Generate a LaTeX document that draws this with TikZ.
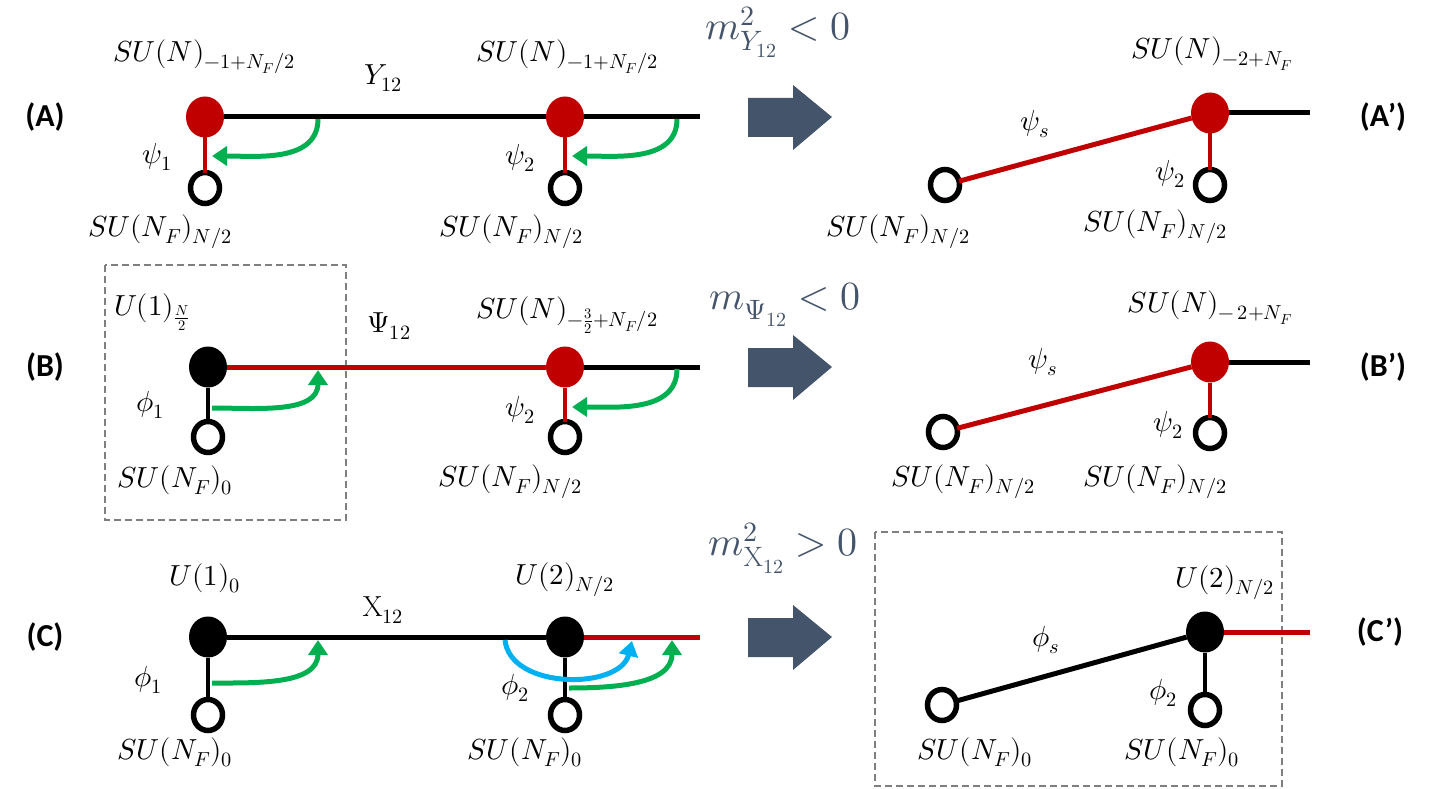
\documentclass[tikz,border=0pt]{standalone}
\usepackage{fontspec}
\usepackage{unicode-math}
\setmathfont{Latin Modern Math}
\setsansfont{Carlito}
\usetikzlibrary{arrows.meta,shapes.geometric}
\definecolor{dred}{HTML}{C00000}
\definecolor{ggreen}{HTML}{00B050}
\definecolor{gblue}{HTML}{00B0F0}
\definecolor{slate}{HTML}{44546A}
\definecolor{dgray}{HTML}{7F7F7F}
\begin{document}
\begin{tikzpicture}[x=1pt,y=-1pt,
  gauge/.style={ellipse,minimum width=38pt,minimum height=41pt,inner sep=0pt,outer sep=0pt},
  rg/.style={gauge,fill=dred},
  bg/.style={gauge,fill=black},
  flav/.style={ellipse,draw=black,line width=5.5pt,minimum width=29pt,minimum height=31pt,inner sep=0pt,outer sep=0pt,fill=white},
  bline/.style={draw=black,line width=5pt},
  rline/.style={draw=dred,line width=5pt},
  bstem/.style={draw=black,line width=4.5pt},
  rstem/.style={draw=dred,line width=4.5pt},
  garrow/.style={draw=ggreen,line width=5pt,-{Triangle[length=15pt,width=19pt]}},
  barrow/.style={draw=gblue,line width=5pt,-{Triangle[length=15pt,width=19pt]}},
  lbl/.style={inner sep=0pt,font=\fontsize{29}{34}\selectfont},
  mass/.style={inner sep=0pt,text=slate,font=\fontsize{40}{44}\selectfont},
  tag/.style={inner sep=0pt,font=\sffamily\bfseries\fontsize{32}{36}\selectfont},
  bigarrow/.style={fill=slate,draw=none},
  dbox/.style={draw=dgray,line width=1.8pt,dash pattern=on 7pt off 4pt}
]
\useasboundingbox (0,0) rectangle (1435,789);

% dashed boxes
\draw[dbox] (105,265) rectangle (346,520);
\draw[dbox] (875,532) rectangle (1282,786);

% ================= Row A =================
\node[tag] (tA) at (45,117) {(A)};
\node[rg] (a1) at (205,117) {};
\node[rg] (a2) at (565,117) {};
\node[flav] (a1f) at (205,188) {};
\node[flav] (a2f) at (565,188) {};
\coordinate (a2e) at (700,117);
\draw[bline] (a1) -- (a2);
\draw[bline] (a2) -- (a2e);
\draw[rstem] (a1) -- (a1f);
\draw[rstem] (a2) -- (a2f);
\coordinate (ga1s) at (318,119);
\coordinate (ga1e) at (212,156);
\coordinate (ga2s) at (677,119);
\coordinate (ga2e) at (572,156);
\draw[garrow] (ga1s) to[out=-90,in=0] (ga1e);
\draw[garrow] (ga2s) to[out=-90,in=0] (ga2e);
\node[lbl] (la1) at (204,57) {$SU(N)_{-1+N_F/2}$};
\node[lbl] (la2) at (567,57) {$SU(N)_{-1+N_F/2}$};
\node[lbl] (ly) at (383,78) {$Y_{12}$};
\node[lbl] (lp1) at (157,157) {$\psi_1$};
\node[lbl] (lp2) at (520,158) {$\psi_2$};
\node[lbl] (lf1) at (160,232) {$SU(N_F)_{N/2}$};
\node[lbl] (lf2) at (511,232) {$SU(N_F)_{N/2}$};
\node[mass] (mA) at (778,32) {$m^2_{Y_{12}}<0$};
\draw[bigarrow] (748,98) -- (793,98) -- (793,85) -- (832,117) -- (793,150) -- (793,137) -- (748,137) -- cycle;
% A'
\node[rg] (ap) at (1210,113) {};
\node[flav] (apl) at (945,185) {};
\node[flav] (apr) at (1210,185) {};
\coordinate (ape) at (1310,113);
\draw[bline] (ap) -- (ape);
\draw[rline] (apl) -- (ap);
\draw[rstem] (ap) -- (apr);
\node[lbl] (lap) at (1212,54) {$SU(N)_{-2+N_F}$};
\node[lbl] (laps) at (1035,124) {$\psi_s$};
\node[lbl] (lap2) at (1170,174) {$\psi_2$};
\node[lbl] (lapl) at (898,232) {$SU(N_F)_{N/2}$};
\node[lbl] (lapr) at (1155,227) {$SU(N_F)_{N/2}$};
\node[tag] (tAp) at (1383,117) {(A’)};

% ================= Row B =================
\node[tag] (tB) at (45,367) {(B)};
\node[bg] (b1) at (208,367) {};
\node[rg] (b2) at (565,367) {};
\node[flav] (b1f) at (208,437) {};
\node[flav] (b2f) at (565,437) {};
\coordinate (b2e) at (700,367);
\draw[rline] (b1) -- (b2);
\draw[bline] (b2) -- (b2e);
\draw[bstem] (b1) -- (b1f);
\draw[rstem] (b2) -- (b2f);
\coordinate (gb1s) at (212,408);
\coordinate (gb1e) at (318,370);
\coordinate (gb2s) at (677,369);
\coordinate (gb2e) at (572,407);
\draw[garrow] (gb1s) to[out=0,in=-90] (gb1e);
\draw[garrow] (gb2s) to[out=-90,in=0] (gb2e);
\node[lbl] (lb1) at (152,312) {$U(1)_{\frac{N}{2}}$};
\node[lbl] (lb2) at (567,315) {$SU(N)_{-\frac{3}{2}+N_F/2}$};
\node[lbl] (lpsi) at (389,326) {$\Psi_{12}$};
\node[lbl] (lphi1) at (150,405) {$\phi_1$};
\node[lbl] (lbp2) at (520,410) {$\psi_2$};
\node[lbl] (lbf1) at (175,480) {$SU(N_F)_0$};
\node[lbl] (lbf2) at (510,482) {$SU(N_F)_{N/2}$};
\node[mass] (mB) at (785,305) {$m_{\Psi_{12}}<0$};
\draw[bigarrow] (748,348) -- (793,348) -- (793,335) -- (832,367) -- (793,400) -- (793,387) -- (748,387) -- cycle;
% B'
\node[rg] (bp) at (1210,362) {};
\node[flav] (bpl) at (943,432) {};
\node[flav] (bpr) at (1210,433) {};
\coordinate (bpe) at (1310,362);
\draw[bline] (bp) -- (bpe);
\draw[rline] (bpl) -- (bp);
\draw[rstem] (bp) -- (bpr);
\node[lbl] (lbp) at (1210,308) {$SU(N)_{-\,2+N_F}$};
\node[lbl] (lbps) at (1043,362) {$\psi_s$};
\node[lbl] (lbp2r) at (1168,425) {$\psi_2$};
\node[lbl] (lbpl) at (963,482) {$SU(N_F)_{N/2}$};
\node[lbl] (lbpr) at (1155,482) {$SU(N_F)_{N/2}$};
\node[tag] (tBp) at (1383,367) {(B’)};

% ================= Row C =================
\node[tag] (tC) at (45,637) {(C)};
\node[bg] (c1) at (208,637) {};
\node[bg] (c2) at (565,637) {};
\node[flav] (c1f) at (208,715) {};
\node[flav] (c2f) at (565,715) {};
\coordinate (c2e) at (700,637);
\draw[bline] (c1) -- (c2);
\draw[rline] (c2) -- (c2e);
\draw[bstem] (c1) -- (c1f);
\draw[bstem] (c2) -- (c2f);
\coordinate (gc1s) at (212,683);
\coordinate (gc1e) at (318,640);
\coordinate (gc2s) at (569,688);
\coordinate (gc2e) at (672,640);
\coordinate (bcs) at (505,640);
\coordinate (bce) at (632,641);
\draw[garrow] (gc1s) to[out=0,in=-90] (gc1e);
\draw[garrow] (gc2s) to[out=0,in=-90] (gc2e);
\draw[barrow] (bcs) .. controls (510,690) and (620,690) .. (bce);
\node[lbl] (lc1) at (205,578) {$U(1)_0$};
\node[lbl] (lc2) at (565,580) {$U(2)_{N/2}$};
\node[lbl] (lx) at (383,610) {$\mathrm{X}_{12}$};
\node[lbl] (lcp1) at (148,680) {$\phi_1$};
\node[lbl] (lcp2) at (515,688) {$\phi_2$};
\node[lbl] (lcf1) at (175,752) {$SU(N_F)_0$};
\node[lbl] (lcf2) at (525,752) {$SU(N_F)_0$};
\node[mass] (mC) at (783,548) {$m^2_{\mathrm{X}_{12}}>0$};
\draw[bigarrow] (748,618) -- (793,618) -- (793,605) -- (832,637) -- (793,670) -- (793,657) -- (748,657) -- cycle;
% C'
\node[bg] (cp) at (1205,632) {};
\node[flav] (cpl) at (942,705) {};
\node[flav] (cpr) at (1205,710) {};
\coordinate (cpe) at (1310,632);
\draw[rline] (cp) -- (cpe);
\draw[bline] (cpl) -- (cp);
\draw[bstem] (cp) -- (cpr);
\node[lbl] (lcp) at (1225,583) {$U(2)_{N/2}$};
\node[lbl] (lcps) at (1046,640) {$\phi_s$};
\node[lbl] (lcp2r) at (1163,693) {$\phi_2$};
\node[lbl] (lcpl) at (975,752) {$SU(N_F)_0$};
\node[lbl] (lcpr) at (1182,752) {$SU(N_F)_0$};
\node[tag] (tCp) at (1380,632) {(C’)};
\end{tikzpicture}
\end{document}
